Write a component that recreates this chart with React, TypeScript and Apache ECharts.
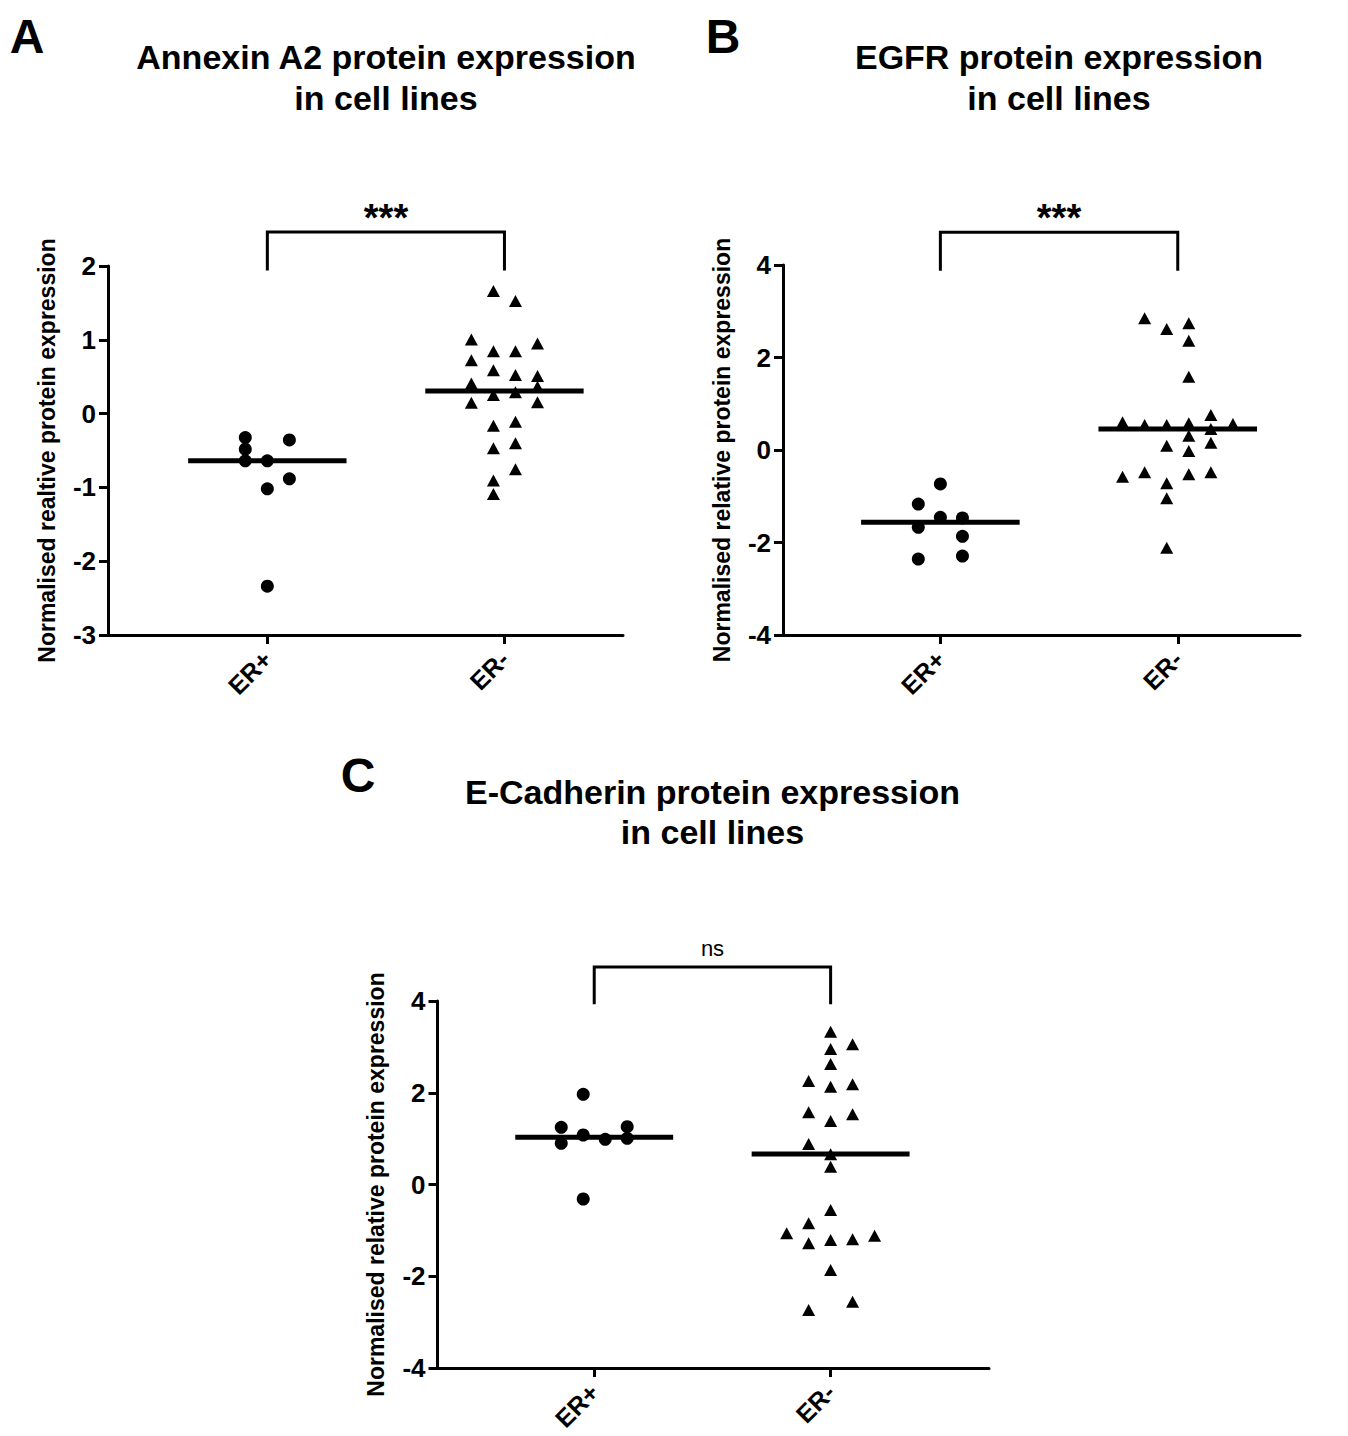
import React, { useEffect, useRef } from "react";
import * as echarts from "echarts";

// ---------- data ----------
const categories = ["ER+", "ER-"];

// Panel A: Annexin A2
const annexinErPos = [-0.325, -0.483, -0.64, -0.64, -0.357, -0.884, -1.019, -2.339];
const annexinErPosSlot = [-1, -1, -1, 0, 1, 1, 0, 0];
const annexinErNeg = [1.661, 1.526, 1.004, 0.95, 0.846, 0.846, 0.724, 0.589, 0.522, 0.508, 0.409, 0.364, 0.251, 0.288, 0.147, 0.153, -0.163, -0.109, -0.469, -0.401, -0.753, -0.907, -1.091];
const annexinErNegSlot = [-0.5, 0.5, -1.5, 1.5, -0.5, 0.5, -1.5, -0.5, 0.5, 1.5, -1.5, 1.5, -0.5, 0.5, -1.5, 1.5, -0.5, 0.5, -0.5, 0.5, 0.5, -0.5, -0.5];
const annexinMedian = [-0.64, 0.305];

// Panel B: EGFR
const egfrErPos = [-0.735, -1.168, -1.456, -1.47, -1.672, -1.867, -2.357, -2.292];
const egfrErPosSlot = [0, -1, 0, 1, -1, 1, -1, 1];
const egfrErNeg = [2.847, 2.616, 2.739, 2.364, 1.586, 0.757, 0.598, 0.541, 0.541, 0.577, 0.454, 0.562, 0.31, 0.159, 0.094, -0.022, -0.577, -0.483, -0.721, -0.526, -0.483, -1.045, -2.112];
const egfrErNegSlot = [-1.5, -0.5, 0.5, 0.5, 0.5, 1.5, -2.5, -1.5, -0.5, 0.5, 1.5, 2.5, 0.5, 1.5, -0.5, 0.5, -2.5, -1.5, -0.5, 0.5, 1.5, -0.5, -0.5];
const egfrMedian = [-1.564, 0.454];

// Panel C: E-Cadherin
const ecadErPos = [1.966, 1.247, 1.26, 1.079, 0.985, 1.007, 0.898, -0.316];
const ecadErPosSlot = [-0.5, -1.5, 1.5, -0.5, 0.5, 1.5, -1.5, -0.5];
const ecadErNeg = [3.331, 3.056, 2.954, 2.627, 2.256, 2.132, 2.184, 1.574, 1.53, 1.384, 0.883, 0.658, 0.388, -0.556, -0.846, -1.064, -1.282, -1.21, -1.195, -1.116, -1.864, -2.555, -2.736];
const ecadErNegSlot = [0, 1, 0, 0, -1, 0, 1, -1, 1, 0, -1, 0, 0, 0, -1, -2, -1, 0, 1, 2, 0, 1, -1];
const ecadMedian = [1.029, 0.665];

// y axis ranges and ticks
const yMin = [-3, -4, -4];
const yMax = [2, 4, 4];
const yInterval = [1, 2, 2];

// bracket heights (data units) and significance labels
const bracketTop = [2.46, 4.71, 4.74];
const bracketLeg = [1.96, 3.91, 3.96];
const significance = ["***", "***", "ns"];

const titles = ["Annexin A2 protein expression", "EGFR protein expression", "E-Cadherin protein expression"];
const yNames = ["Normalised realtive protein expression", "Normalised relative protein expression", "Normalised relative protein expression"];
const letters = ["A", "B", "C"];

// ---------- layout ----------
const FONT = "'Liberation Sans', Arial, Helvetica, sans-serif";
const SLOT = 0.093; // horizontal spread step (axis units)
const HALF = 0.334; // half width of median line

const grids = [
  { left: 108, top: 266, width: 515, height: 369, outerBoundsMode: "none" },
  { left: 783, top: 265, width: 517, height: 370, outerBoundsMode: "none" },
  { left: 437.5, top: 1001, width: 551.5, height: 367, outerBoundsMode: "none" },
];
const xRange = [
  [0.328, 2.5],
  [0.337, 2.515],
  [0.337, 2.67],
];
const titlePos = [
  [386, 57, 98],
  [1059, 57, 98],
  [712.5, 792, 832],
];
const letterPos = [
  [27, 36],
  [723, 36],
  [358, 775],
];
const sigPos = [
  [386, 218],
  [1059, 218],
  [712.5, 948],
];

const panels = [
  { pos: annexinErPos, posSlot: annexinErPosSlot, neg: annexinErNeg, negSlot: annexinErNegSlot, med: annexinMedian },
  { pos: egfrErPos, posSlot: egfrErPosSlot, neg: egfrErNeg, negSlot: egfrErNegSlot, med: egfrMedian },
  { pos: ecadErPos, posSlot: ecadErPosSlot, neg: ecadErNeg, negSlot: ecadErNegSlot, med: ecadMedian },
];

function buildOption() {
  const xAxis: any[] = [];
  const yAxis: any[] = [];
  const series: any[] = [];
  const graphic: any[] = [];

  panels.forEach((p, i) => {
    xAxis.push({
      type: "value",
      gridIndex: i,
      min: xRange[i][0],
      max: xRange[i][1],
      splitLine: { show: false },
      axisLine: { show: true, onZero: false, lineStyle: { color: "#000", width: 3 } },
      axisTick: { show: true, customValues: [1, 2], length: 9, lineStyle: { color: "#000", width: 3 } },
      axisLabel: {
        customValues: [1, 2],
        formatter: (v: number) => categories[Math.round(v) - 1] ?? "",
        rotate: 45,
        margin: 20,
        color: "#000",
        fontSize: 25,
        fontWeight: "bold",
        fontFamily: FONT,
      },
    });
    yAxis.push({
      type: "value",
      gridIndex: i,
      min: yMin[i],
      max: yMax[i],
      interval: yInterval[i],
      splitLine: { show: false },
      axisLine: { show: true, onZero: false, lineStyle: { color: "#000", width: 3 } },
      axisTick: { show: true, length: 9, lineStyle: { color: "#000", width: 3 } },
      axisLabel: { margin: 12, color: "#000", fontSize: 26, fontWeight: "bold", fontFamily: FONT },
      name: yNames[i],
      nameLocation: "middle",
      nameGap: 50,
      nameTextStyle: { color: "#000", fontSize: 23, fontWeight: "bold", fontFamily: FONT },
    });

    series.push({
      type: "scatter",
      name: categories[0],
      xAxisIndex: i,
      yAxisIndex: i,
      symbol: "circle",
      symbolSize: 13,
      itemStyle: { color: "#000", opacity: 1 },
      data: p.pos.map((v, k) => [1 + p.posSlot[k] * SLOT, v]),
      z: 3,
    });
    series.push({
      type: "scatter",
      name: categories[1],
      xAxisIndex: i,
      yAxisIndex: i,
      symbol: "triangle",
      symbolSize: [13, 12],
      itemStyle: { color: "#000", opacity: 1 },
      data: p.neg.map((v, k) => [2 + p.negSlot[k] * SLOT, v]),
      z: 3,
    });
    p.med.forEach((m, c) => {
      series.push({
        type: "line",
        xAxisIndex: i,
        yAxisIndex: i,
        symbol: "none",
        silent: true,
        lineStyle: { color: "#000", width: 5 },
        data: [
          [c + 1 - HALF, m],
          [c + 1 + HALF, m],
        ],
        z: 4,
      });
    });
    series.push({
      type: "line",
      xAxisIndex: i,
      yAxisIndex: i,
      symbol: "none",
      silent: true,
      clip: false,
      lineStyle: { color: "#000", width: 3, cap: "square", join: "miter" },
      data: [
        [1, bracketLeg[i]],
        [1, bracketTop[i]],
        [2, bracketTop[i]],
        [2, bracketLeg[i]],
      ],
    });

    graphic.push({
      type: "text",
      x: letterPos[i][0],
      y: letterPos[i][1],
      style: { text: letters[i], font: `bold 48px ${FONT}`, fill: "#000", textAlign: "center", textVerticalAlign: "middle" },
    });
    graphic.push({
      type: "text",
      x: titlePos[i][0],
      y: titlePos[i][1],
      style: { text: titles[i], font: `bold 34px ${FONT}`, fill: "#000", textAlign: "center", textVerticalAlign: "middle" },
    });
    graphic.push({
      type: "text",
      x: titlePos[i][0],
      y: titlePos[i][2],
      style: { text: "in cell lines", font: `bold 34px ${FONT}`, fill: "#000", textAlign: "center", textVerticalAlign: "middle" },
    });
    const isNs = significance[i] === "ns";
    graphic.push({
      type: "text",
      x: sigPos[i][0],
      y: sigPos[i][1],
      style: {
        text: significance[i],
        font: isNs ? `22px ${FONT}` : `bold 38px ${FONT}`,
        fill: "#000",
        textAlign: "center",
        textVerticalAlign: "middle",
      },
    });
  });

  return {
    animation: false,
    backgroundColor: "#fff",
    grid: grids,
    xAxis,
    yAxis,
    series,
    graphic,
  };
}

export default function App() {
  const ref = useRef<HTMLDivElement>(null);
  useEffect(() => {
    if (!ref.current) return;
    const chart = echarts.init(ref.current, undefined, { renderer: "svg" });
    chart.setOption(buildOption() as any);
    return () => chart.dispose();
  }, []);
  return <div ref={ref} style={{ position: "absolute", left: 0, top: 0, width: 1348, height: 1436, background: "#fff" }} />;
}
